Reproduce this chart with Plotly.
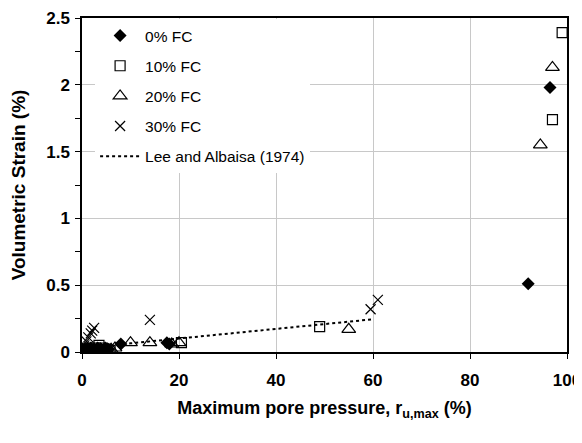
import plotly.graph_objects as go

# 0% FC
fc0_x = [0.3, 0.8, 1.2, 1.8, 2.5, 3.2, 4.0, 4.8, 5.5, 8.0, 17.5, 18.0, 92.0, 96.5]
fc0_y = [0.01, 0.02, 0.01, 0.03, 0.02, 0.03, 0.02, 0.03, 0.02, 0.06, 0.07, 0.06, 0.51, 1.98]
# 10% FC
fc10_x = [0.5, 1.0, 1.5, 2.2, 2.8, 3.5, 4.2, 5.0, 5.8, 20.5, 49.0, 97.0, 99.0]
fc10_y = [0.02, 0.01, 0.03, 0.02, 0.03, 0.05, 0.03, 0.02, 0.01, 0.07, 0.19, 1.74, 2.39]
# 20% FC
fc20_x = [0.6, 1.4, 2.6, 3.8, 5.2, 6.0, 6.8, 10.0, 14.0, 18.5, 20.0, 55.0, 94.5, 97.0]
fc20_y = [0.01, 0.02, 0.01, 0.02, 0.01, 0.02, 0.03, 0.07, 0.07, 0.06, 0.07, 0.17, 1.55, 2.13]
# 30% FC
fc30_x = [0.2, 0.5, 0.9, 1.3, 1.8, 2.1, 2.5, 14.0, 59.5, 61.0]
fc30_y = [0.03, 0.05, 0.08, 0.11, 0.14, 0.16, 0.18, 0.24, 0.32, 0.39]
# Lee and Albaisa (1974)
lee_x = [0, 5, 10, 20, 30, 40, 50, 60]
lee_y = [0.0, 0.04, 0.065, 0.1, 0.135, 0.17, 0.205, 0.245]

font = "Liberation Sans, Arial, sans-serif"

fig = go.Figure()
fig.add_trace(go.Scatter(x=fc0_x, y=fc0_y, mode="markers", name="0% FC", legendgroup="a",
                         marker=dict(symbol="diamond", size=10, color="black")))
fig.add_trace(go.Scatter(x=fc10_x, y=fc10_y, mode="markers", name="10% FC", legendgroup="b",
                         marker=dict(symbol="square-open", size=10, color="black", line=dict(width=1.2))))
fig.add_trace(go.Scatter(x=fc20_x, y=fc20_y, mode="markers", name="20% FC", legendgroup="c",
                         marker=dict(symbol="triangle-up-open", size=12, color="black", line=dict(width=1.2))))
fig.add_trace(go.Scatter(x=fc30_x, y=fc30_y, mode="markers", name="30% FC", legendgroup="d",
                         marker=dict(symbol="x-thin-open", size=10, color="black", line=dict(width=1.2))))
fig.add_trace(go.Scatter(x=lee_x, y=lee_y, mode="lines", name="Lee and Albaisa (1974)", legendgroup="e",
                         line=dict(color="black", width=2, dash="dot")))

fig.update_layout(
    width=574, height=435,
    margin=dict(l=74, r=15, t=10, b=91),
    paper_bgcolor="white", plot_bgcolor="white",
    font=dict(family=font, color="black"),
    legend=dict(x=0.027, y=0.997, xanchor="left", yanchor="top", bgcolor="white",
                font=dict(size=15.5, family=font), tracegroupgap=7,
                traceorder="grouped", itemwidth=40),
    xaxis=dict(range=[0, 100], tickvals=[0, 20, 40, 60, 80, 100],
               showgrid=True, gridcolor="#c8c8c8", gridwidth=1,
               showline=True, linecolor="black", linewidth=1.5, mirror=True,
               ticks="outside", ticklen=5, tickcolor="black", ticklabelstandoff=7,
               ticklabeloverflow="allow",
               tickfont=dict(size=17, family=font, weight="bold"),
               title=dict(text="Maximum pore pressure, r<sub>u,max</sub> (%)",
                          font=dict(size=18, family=font, weight="bold"), standoff=12),
               zeroline=False, automargin=False),
    yaxis=dict(range=[0, 2.5], tickvals=[0, 0.5, 1, 1.5, 2, 2.5],
               ticktext=["0", "0.5", "1", "1.5", "2", "2.5"],
               showgrid=True, gridcolor="#c8c8c8", gridwidth=1,
               showline=True, linecolor="black", linewidth=1.5, mirror=True,
               ticks="outside", ticklen=5, tickcolor="black", ticklabelstandoff=2,
               minor=dict(dtick=0.25, tick0=0, ticks="outside", ticklen=5, tickcolor="black", showgrid=False),
               tickfont=dict(size=17, family=font, weight="bold"),
               title=dict(text="Volumetric Strain (%)",
                          font=dict(size=19, family=font, weight="bold"), standoff=17),
               zeroline=False, automargin=False),
)

fig.write_html("out.html")
